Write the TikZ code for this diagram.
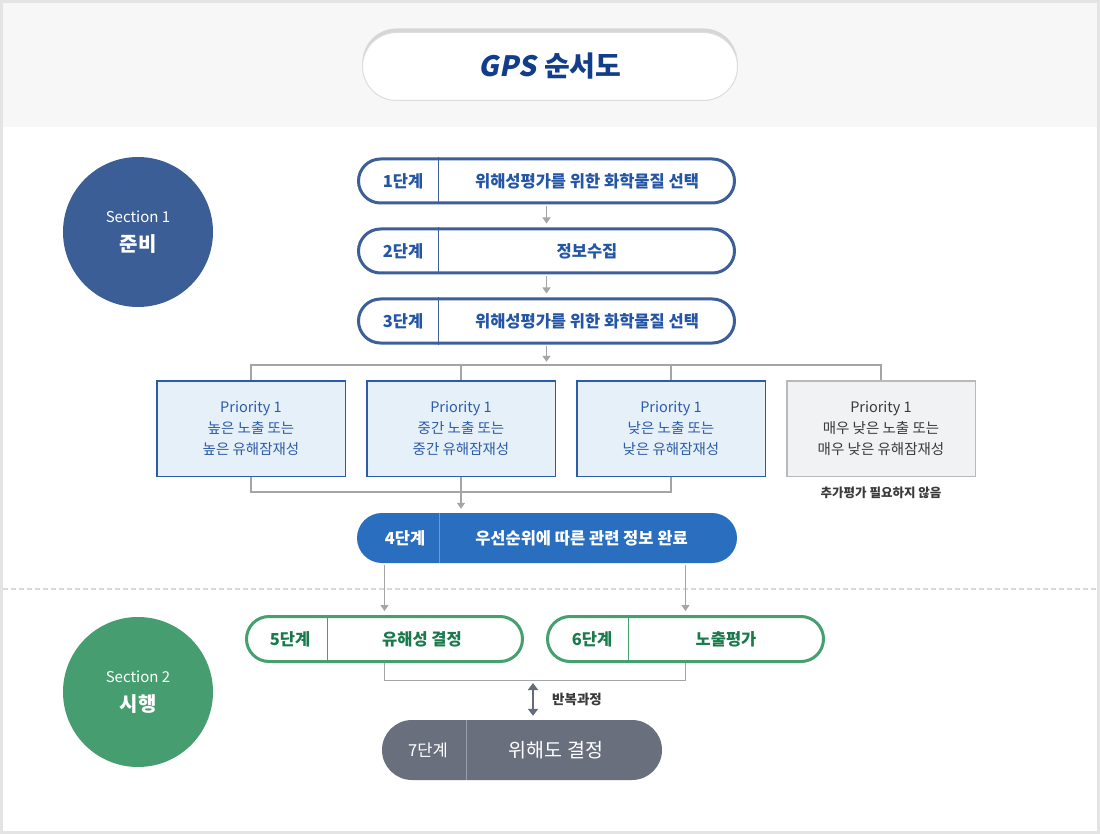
\documentclass[tikz,border=0pt]{standalone}
\usepackage{fontspec}
\setmainfont{Noto Sans CJK KR}
\newfontfamily\slantfont{Noto Sans CJK KR}[FakeSlant=0.2]
\usepackage{tikz}
\usetikzlibrary{arrows.meta,positioning,shadows}
\definecolor{FrameGray}{HTML}{E4E4E4}
\definecolor{HeadGray}{HTML}{F7F7F7}
\definecolor{ShadowGray}{HTML}{D6D6D6}
\definecolor{TitleLine}{HTML}{DCDCDC}
\definecolor{TitleNavy}{HTML}{123D8A}
\definecolor{StepBlue}{HTML}{3C5F9A}
\definecolor{StepBlueText}{HTML}{2556A5}
\definecolor{SecBlue}{HTML}{3C5E96}
\definecolor{PrioBlue}{HTML}{2C5CA8}
\definecolor{PrioFill}{HTML}{E6F0F9}
\definecolor{PrioGrayLine}{HTML}{B9B9B9}
\definecolor{PrioGrayFill}{HTML}{F1F2F4}
\definecolor{DarkText}{HTML}{3A3A3A}
\definecolor{FullBlue}{HTML}{2A6EBF}
\definecolor{FullBlueDiv}{HTML}{6D9AD4}
\definecolor{StepGreen}{HTML}{45A070}
\definecolor{StepGreenText}{HTML}{1A7A4C}
\definecolor{SecGreen}{HTML}{469E70}
\definecolor{FinalGray}{HTML}{696F7C}
\definecolor{FinalGrayDiv}{HTML}{9AA0AA}
\definecolor{LineGray}{HTML}{A5A5A5}
\definecolor{LoopGray}{HTML}{646C7A}
\definecolor{DashGray}{HTML}{DADADA}

\begin{document}
\begin{tikzpicture}[
    x=1pt, y=-1pt,
    titlepill/.style={
      fill=white,
      draw=TitleLine,
      line width=1pt,
      rounded corners=34pt,
      minimum width=375pt,
      minimum height=68pt,
      general shadow={fill=ShadowGray, shadow yshift=4pt},
      text=TitleNavy,
      font=\fontsize{28}{32}\selectfont\bfseries
    },
    bluestep/.style={
      draw=StepBlue,
      line width=3pt,
      fill=white,
      rounded corners=22pt,
      minimum width=376pt,
      minimum height=44pt,
      inner sep=0pt
    },
    fullstep/.style={
      fill=FullBlue,
      rounded corners=25pt,
      minimum width=380pt,
      minimum height=50pt,
      inner sep=0pt
    },
    greenstep/.style={
      draw=StepGreen,
      line width=3pt,
      fill=white,
      rounded corners=22.5pt,
      minimum width=276pt,
      minimum height=45pt,
      inner sep=0pt
    },
    finalstep/.style={
      fill=FinalGray,
      rounded corners=30pt,
      minimum width=280pt,
      minimum height=60pt,
      inner sep=0pt
    },
    steptext/.style={font=\fontsize{16.5}{19}\selectfont\bfseries},
    prio/.style={
      draw=PrioBlue,
      line width=1.5pt,
      fill=PrioFill,
      text=PrioBlue,
      minimum width=188.5pt,
      minimum height=95.5pt,
      align=center,
      font=\fontsize{14.5}{21}\selectfont
    },
    priogray/.style={prio, draw=PrioGrayLine, fill=PrioGrayFill, text=DarkText},
    section/.style={
      circle,
      minimum size=150pt,
      inner sep=0pt,
      text=white,
      align=center,
      font=\fontsize{15}{29}\selectfont
    },
    conn/.style={draw=LineGray, line width=1.3pt},
    arrowc/.style={conn, -{Triangle[width=8pt,length=6pt]}, shorten >=4pt, shorten <=1.5pt},
    looparrow/.style={draw=LoopGray, line width=2pt,
      {Triangle[width=10pt,length=7pt]}-{Triangle[width=10pt,length=7pt]}},
    smallnote/.style={text=DarkText, font=\fontsize{12.5}{14}\selectfont\bfseries}
  ]
    \useasboundingbox (0,0) rectangle (1100,834);
    % frame and header band
    \fill[FrameGray] (0,0) rectangle (1100,834);
    \fill[white] (3,3) rectangle (1097,831);
    \fill[HeadGray] (3,3) rectangle (1097,127);
    \draw[DashGray, line width=1.5pt, dash pattern=on 5pt off 3pt] (3,589) -- (1097,589);

    \node[titlepill] (title) at (550,66.5) {{\slantfont GPS}\hspace{8pt}순서도};

    % section circles
    \node[section, fill=SecBlue] (sec1) at (138,232)
      {Section 1\\{\fontsize{20}{29}\selectfont\bfseries 준비}};
    \node[section, fill=SecGreen] (sec2) at (138,692)
      {Section 2\\{\fontsize{20}{29}\selectfont\bfseries 시행}};

    % steps 1-3
    \node[bluestep] (s1) at (546.5,181) {};
    \node[bluestep] (s2) at (546.5,251) {};
    \node[bluestep] (s3) at (546.5,321) {};
    \foreach \s/\lbl/\txt in {s1/1단계/위해성평가를 위한 화학물질 선택,
                              s2/2단계/정보수집,
                              s3/3단계/위해성평가를 위한 화학물질 선택} {
      \draw[StepBlue, line width=1pt] ([xshift=-108.5pt]\s.north) -- ([xshift=-108.5pt]\s.south);
      \node[steptext, text=StepBlueText] at ([xshift=-143.5pt]\s.center) {\lbl};
      \node[steptext, text=StepBlueText] at ([xshift=40.5pt]\s.center) {\txt};
    }

    % priorities
    \node[prio] (p1) at (251,428.5) {Priority 1\\높은 노출 또는\\높은 유해잠재성};
    \node[prio] (p2) at (461,428.5) {Priority 1\\중간 노출 또는\\중간 유해잠재성};
    \node[prio] (p3) at (671,428.5) {Priority 1\\낮은 노출 또는\\낮은 유해잠재성};
    \node[priogray] (p4) at (881,428.5) {Priority 1\\매우 낮은 노출 또는\\매우 낮은 유해잠재성};
    \node[smallnote, below=6pt of p4] (note) {추가평가 필요하지 않음};

    % step 4
    \node[fullstep] (s4) at (547,538) {};
    \draw[FullBlueDiv, line width=1pt] ([xshift=-108pt]s4.north) -- ([xshift=-108pt]s4.south);
    \node[steptext, text=white] at ([xshift=-142pt]s4.center) {4단계};
    \node[steptext, text=white] at ([xshift=34.5pt]s4.center) {우선순위에 따른 관련 정보 완료};

    % steps 5 and 6
    \node[greenstep] (s5) at (384.5,639) {};
    \node[greenstep] (s6) at (685.5,639) {};
    \draw[StepGreen, line width=1pt] ([xshift=-57.5pt]s5.north) -- ([xshift=-57.5pt]s5.south);
    \draw[StepGreen, line width=1pt] ([xshift=-57.5pt]s6.north) -- ([xshift=-57.5pt]s6.south);
    \node[steptext, text=StepGreenText] at ([xshift=-94.5pt]s5.center) {5단계};
    \node[steptext, text=StepGreenText] at ([xshift=37.5pt]s5.center) {유해성 결정};
    \node[steptext, text=StepGreenText] at ([xshift=-93.5pt]s6.center) {6단계};
    \node[steptext, text=StepGreenText] at ([xshift=40.5pt]s6.center) {노출평가};

    % step 7
    \node[finalstep] (s7) at (522,750) {};
    \draw[FinalGrayDiv, line width=1pt] ([xshift=-56pt]s7.north) -- ([xshift=-56pt]s7.south);
    \node[text=white, font=\fontsize{16.5}{19}\selectfont] at ([xshift=-94pt]s7.center) {7단계};
    \node[text=white, font=\fontsize{19.5}{22}\selectfont] at ([xshift=34pt]s7.center) {위해도 결정};

    % connectors
    \draw[arrowc] (s1.south) -- (s2.north);
    \draw[arrowc] (s2.south) -- (s3.north);
    \coordinate (split) at (546.5,365.75);
    \draw[conn] (p1.north) -- ++(0,-15) -| (p4.north);
    \draw[conn] (p2.north) -- ++(0,-15);
    \draw[conn] (p3.north) -- ++(0,-15);
    \draw[arrowc] (s3.south) -- (split);
    \coordinate (merge) at (461,491.25);
    \draw[conn] (p1.south) -- ++(0,15) -| (p3.south);
    \draw[conn] (p2.south) -- (merge);
    \draw[arrowc] (merge) -- (merge |- s4.north);
    \draw[arrowc] (s5.north |- s4.south) -- (s5.north);
    \draw[arrowc] (s6.north |- s4.south) -- (s6.north);
    \draw[conn] (s5.south) -- ++(0,17.5) -| (s6.south);
    \coordinate (join) at (533,679);
    \draw[looparrow, shorten <=4pt, shorten >=4pt] (join) -- (join |- s7.north);
    \node[smallnote, font=\fontsize{13.5}{15}\selectfont\bfseries] (looplabel) at (577,699) {반복과정};
  \end{tikzpicture}
\end{document}
